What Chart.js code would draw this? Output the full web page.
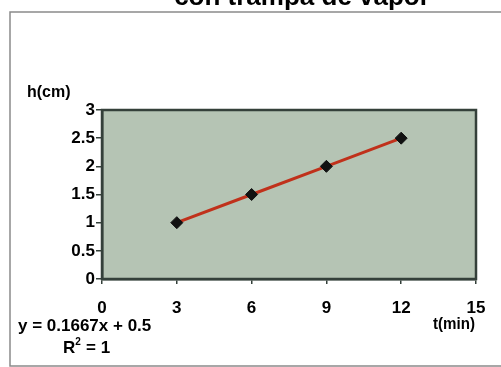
<!DOCTYPE html>
<html>
<head>
<meta charset="utf-8">
<script src="https://cdn.jsdelivr.net/npm/chart.js@4"></script>
<style>
  html, body { margin: 0; padding: 0; background: #fff; }
  #wrap { width: 501px; height: 367px; position: relative; }
</style>
</head>
<body>
<div id="wrap"><canvas id="chart" width="501" height="367"></canvas></div>
<script>
// ---------- data ----------
const tMin = [3, 6, 9, 12];
const hCm = [1, 1.5, 2, 2.5];
const xTicks = [0, 3, 6, 9, 12, 15];
const yTicks = [0, 0.5, 1, 1.5, 2, 2.5, 3];

const titleText = "con trampa de vapor";
const yLabel = "h(cm)";
const xLabel = "t(min)";
const eqText = "y = 0.1667x + 0.5";

const FONT = "'Liberation Sans', Arial, sans-serif";
const AXIS = "#34403a";

// background, frame and free text, drawn like the old Excel chart
const decor = {
    id: "decor",
    beforeDraw(chart) {
        const c = chart.ctx;
        c.save();
        c.fillStyle = "#fff";
        c.fillRect(0, 0, chart.width, chart.height);
        // outer chart frame
        c.strokeStyle = "#8a8a8a";
        c.lineWidth = 1.5;
        c.strokeRect(10, 12, 520, 354);
        // plot area fill
        const a = chart.chartArea;
        c.fillStyle = "#b5c4b4";
        c.fillRect(a.left, a.top, a.right - a.left, a.bottom - a.top);
        c.restore();
    },
    afterDatasetsDraw(chart) {
        const c = chart.ctx;
        const a = chart.chartArea;
        c.save();
        c.strokeStyle = AXIS;
        c.lineWidth = 2.5;
        c.strokeRect(a.left, a.top, a.right - a.left, a.bottom - a.top);

        c.fillStyle = "#000";
        // title, mostly cut off at the top
        c.font = "bold 26px " + FONT;
        c.textAlign = "center";
        c.textBaseline = "alphabetic";
        c.fillText(titleText, 302, 5);

        c.font = "bold 16px " + FONT;
        c.textAlign = "left";
        c.textBaseline = "middle";
        c.fillText(yLabel, 27, 93, 46);
        c.fillText(xLabel, 433, 325, 42);
        c.font = "bold 17px " + FONT;
        c.fillText(eqText, 18, 326, 139);
        c.fillText("R", 63, 348);
        const rw = c.measureText("R").width;
        c.font = "bold 10px " + FONT;
        c.fillText("2", 63 + rw, 342);
        c.font = "bold 17px " + FONT;
        c.fillText(" = 1", 63 + rw + 6, 348);
        c.restore();
    }
};

new Chart(document.getElementById("chart"), {
    type: "scatter",
    data: {
        datasets: [{
            data: tMin.map((t, i) => ({ x: t, y: hCm[i] })),
            showLine: true,
            borderColor: "#c0311b",
            borderWidth: 3,
            pointStyle: "rectRot",
            pointRadius: 6,
            pointBackgroundColor: "#111",
            pointBorderColor: "#111",
            pointBorderWidth: 1
        }]
    },
    options: {
        responsive: false,
        animation: false,
        layout: { padding: { left: 0, top: 110, right: 25, bottom: 0 } },
        plugins: {
            legend: { display: false },
            tooltip: { enabled: false }
        },
        scales: {
            x: {
                type: "linear",
                min: 0,
                max: 15,
                afterBuildTicks: s => { s.ticks = xTicks.map(v => ({ value: v })); },
                afterFit: s => { s.height = 88; },
                grid: { drawOnChartArea: false, color: AXIS, tickLength: 5, lineWidth: 1.5 },
                border: { color: AXIS, width: 2.5 },
                ticks: {
                    color: "#000",
                    padding: 14,
                    callback: v => String(v),
                    font: { family: FONT, size: 17, weight: "bold" }
                }
            },
            y: {
                min: 0,
                max: 3,
                afterBuildTicks: s => { s.ticks = yTicks.map(v => ({ value: v })); },
                afterFit: s => { s.width = 102; },
                grid: { drawOnChartArea: false, color: AXIS, tickLength: 6, lineWidth: 1.5 },
                border: { color: AXIS, width: 2.5 },
                ticks: {
                    color: "#000",
                    padding: 1,
                    callback: v => String(v),
                    font: { family: FONT, size: 17, weight: "bold" }
                }
            }
        }
    },
    plugins: [decor]
});
</script>
</body>
</html>
